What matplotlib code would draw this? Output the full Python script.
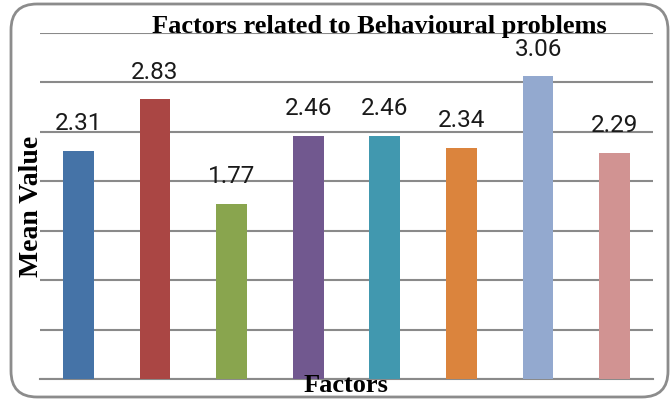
import matplotlib
matplotlib.use("Agg")
import matplotlib.pyplot as plt
from matplotlib.patches import FancyBboxPatch

factors = ["F1", "F2", "F3", "F4", "F5", "F6", "F7", "F8"]
mean_values = [2.31, 2.83, 1.77, 2.46, 2.46, 2.34, 3.06, 2.29]
value_labels = ["2.31", "2.83", "1.77", "2.46", "2.46", "2.34", "3.06", "2.29"]
bar_colors = ["#4573A7", "#AA4644", "#89A54E", "#71588F", "#4198AF",
              "#DB843D", "#93A9CF", "#D19392"]

W, H = 672, 400
fig = plt.figure(figsize=(W / 100, H / 100), dpi=100)

# rounded chart border
border = FancyBboxPatch((11, 3), 657, 393, boxstyle="round,pad=0,rounding_size=26",
                        transform=None, facecolor="none", edgecolor="#8c8c8c",
                        linewidth=2, zorder=-1)
fig.patches.append(border)

ax = fig.add_axes([40 / W, 21 / H, 613 / W, 346 / H])
ax.set_facecolor("none")
x = range(len(factors))
ax.bar(x, mean_values, width=0.4, color=bar_colors, zorder=3)
ax.set_xlim(-0.5, len(factors) - 0.5)
ax.set_ylim(0, 3.5)
ax.set_yticks([i * 0.5 for i in range(8)])
ax.yaxis.grid(True, color="#8a8a8a", linewidth=1.5, zorder=0)
ax.tick_params(left=False, bottom=False, labelleft=False, labelbottom=False)
for s in ["top", "right", "left"]:
    ax.spines[s].set_visible(False)
ax.spines["bottom"].set_color("#8a8a8a")
ax.spines["bottom"].set_linewidth(1.5)

for xi, v, lab in zip(x, mean_values, value_labels):
    ax.annotate(lab, (xi, v), xytext=(0, 19.5), textcoords="offset points",
                ha="center", va="center", fontsize=17.5, fontweight="normal",
                color="#1a1a1a", family=["Roboto", "DejaVu Sans"], zorder=4)

serif = "Liberation Serif"
fig.text(379 / W, 1 - 27 / H, "Factors related to Behavioural problems",
         ha="center", va="center", fontsize=19, fontweight="bold", family=serif)
fig.text(32 / W, 1 - 206 / H, "Mean Value", ha="center", va="center",
         rotation=90, fontsize=20, fontweight="bold", family=serif)
fig.text(346 / W, 1 - 386 / H, "Factors", ha="center", va="center",
         fontsize=19, fontweight="bold", family=serif)

fig.savefig("out.png", dpi=100)
